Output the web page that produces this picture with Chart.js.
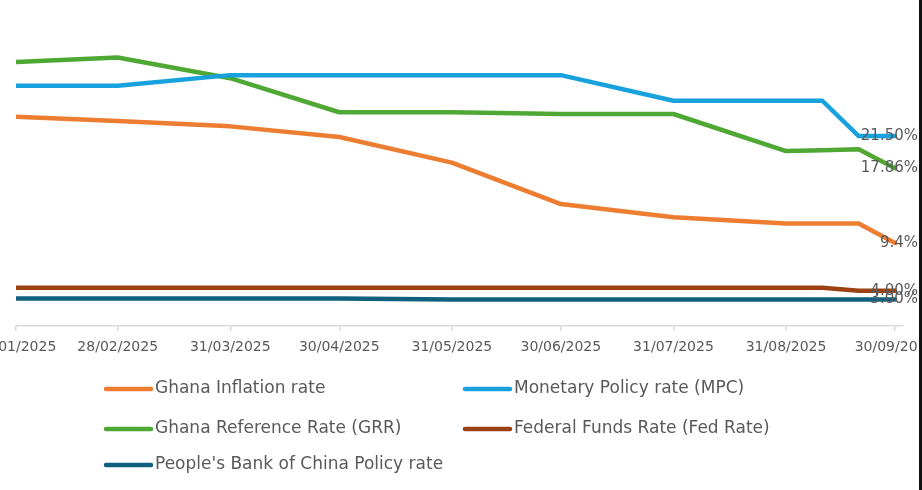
<!DOCTYPE html>
<html>
<head>
<meta charset="utf-8">
<script src="https://cdn.jsdelivr.net/npm/chart.js@4.4.1/dist/chart.umd.min.js"></script>
<style>
  html, body { margin: 0; padding: 0; background: #fff; }
  #wrap { position: relative; width: 922px; height: 490px; overflow: hidden; }
  #box { position: absolute; left: 0; top: 0; width: 918px; height: 490px; }
  #edge { position: absolute; left: 919px; top: 0; width: 3px; height: 490px; background: #111; }
</style>
</head>
<body>
<div id="wrap">
  <div id="box"><canvas id="rates"></canvas></div>
  <div id="edge"></div>
</div>
<script>
// --- data ---
const dates = ['2025-01-31', '2025-02-28', '2025-03-31', '2025-04-30', '2025-05-31', '2025-06-30',
               '2025-07-31', '2025-08-31', '2025-09-10', '2025-09-20', '2025-09-30'];
const tickDates = ['2025-01-31', '2025-02-28', '2025-03-31', '2025-04-30', '2025-05-31',
                   '2025-06-30', '2025-07-31', '2025-08-31', '2025-09-30'];
const tickLabels = ['31/01/2025', '28/02/2025', '31/03/2025', '30/04/2025', '31/05/2025',
                    '30/06/2025', '31/07/2025', '31/08/2025', '30/09/2025'];

const inflation = [23.7, 23.2, 22.6, 21.4, 18.5, 13.8, 12.3, 11.6, 11.6, 11.6, 9.4];
const mpc       = [27.2, 27.2, 28.4, 28.4, 28.4, 28.4, 25.5, 25.5, 25.5, 21.5, 21.5];
const grr       = [29.9, 30.4, 28.05, 24.2, 24.2, 24.0, 24.0, 19.8, 19.9, 20.0, 17.86];
const fedRate   = [4.33, 4.33, 4.33, 4.33, 4.33, 4.33, 4.33, 4.33, 4.33, 4.0, 4.0];
const pbocRate  = [3.1, 3.1, 3.1, 3.1, 3.0, 3.0, 3.0, 3.0, 3.0, 3.0, 3.0];

const endLabels = ['9.4%', '21.50%', '17.86%', '4.00%', '3.00%'];
const seriesNames = ['Ghana Inflation rate', 'Monetary Policy rate (MPC)', 'Ghana Reference Rate (GRR)',
                     'Federal Funds Rate (Fed Rate)', "People's Bank of China Policy rate"];

// days since the first date, so the axis spacing follows the calendar
const dayMs = 24 * 3600 * 1000;
const start = Date.UTC(2025, 0, 31);
const toDay = s => {
    const p = s.split('-').map(Number);
    return Math.round((Date.UTC(p[0], p[1] - 1, p[2]) - start) / dayMs);
};
const days = dates.map(toDay);
const tickDays = tickDates.map(toDay);

const colors = ['#ED7D31', '#17A2DD', '#4FA834', '#9C4212', '#0F5F7E'];
const values = [inflation, mpc, grr, fedRate, pbocRate];
const textGray = '#595959';
const font = '"DejaVu Sans", sans-serif';

const datasets = values.map((vals, i) => ({
    label: seriesNames[i],
    data: vals.map((v, j) => ({ x: days[j], y: v })),
    borderColor: colors[i],
    backgroundColor: colors[i],
    borderWidth: 4.5,
    borderCapStyle: 'round',
    borderJoinStyle: 'round',
    pointRadius: 0,
    tension: 0
}));

// value labels at the last point of each line
const endLabelPlugin = {
    id: 'endLabels',
    afterDatasetsDraw(chart) {
        const ctx = chart.ctx;
        ctx.save();
        ctx.font = '15px ' + font;
        ctx.fillStyle = textGray;
        ctx.textAlign = 'right';
        ctx.textBaseline = 'middle';
        chart.data.datasets.forEach((ds, i) => {
            const pts = chart.getDatasetMeta(i).data;
            const last = pts[pts.length - 1];
            ctx.fillText(endLabels[i], last.x + 23, last.y);
        });
        ctx.restore();
    }
};

// two column legend under the axis
const legendPlugin = {
    id: 'gridLegend',
    afterDraw(chart) {
        const ctx = chart.ctx;
        const colX = [104, 463];
        const rowY = [389, 429, 465];
        ctx.save();
        ctx.font = '17px ' + font;
        ctx.textBaseline = 'middle';
        ctx.lineCap = 'round';
        chart.data.datasets.forEach((ds, i) => {
            const x = colX[i % 2];
            const y = rowY[Math.floor(i / 2)];
            ctx.strokeStyle = ds.borderColor;
            ctx.lineWidth = 4.5;
            ctx.beginPath();
            ctx.moveTo(x + 2, y);
            ctx.lineTo(x + 47, y);
            ctx.stroke();
            ctx.fillStyle = textGray;
            ctx.fillText(ds.label, x + 51, y);
        });
        ctx.restore();
    }
};

new Chart(document.getElementById('rates'), {
    type: 'line',
    data: { datasets },
    options: {
        responsive: true,
        maintainAspectRatio: false,
        animation: false,
        layout: { padding: { left: 16, right: 15, top: 8, bottom: 0 } },
        plugins: {
            legend: { display: false },
            tooltip: { enabled: false }
        },
        scales: {
            x: {
                type: 'linear',
                min: 0,
                max: 244.2,
                afterBuildTicks: scale => { scale.ticks = tickDays.map(v => ({ value: v })); },
                afterFit: scale => {
                    scale.paddingLeft = 0;
                    scale.paddingRight = 0;
                    scale.height = 164;
                },
                border: { display: true, color: '#D9D9D9', width: 1.5 },
                grid: { display: true, drawOnChartArea: false, drawTicks: true, tickLength: 5, color: '#D9D9D9', lineWidth: 1.5 },
                ticks: {
                    autoSkip: false,
                    maxRotation: 0,
                    padding: 8,
                    color: textGray,
                    font: { family: font, size: 14 },
                    callback: (v, i) => tickLabels[i]
                }
            },
            y: {
                display: false,
                min: 0,
                max: 36
            }
        }
    },
    plugins: [endLabelPlugin, legendPlugin]
});
</script>
</body>
</html>
